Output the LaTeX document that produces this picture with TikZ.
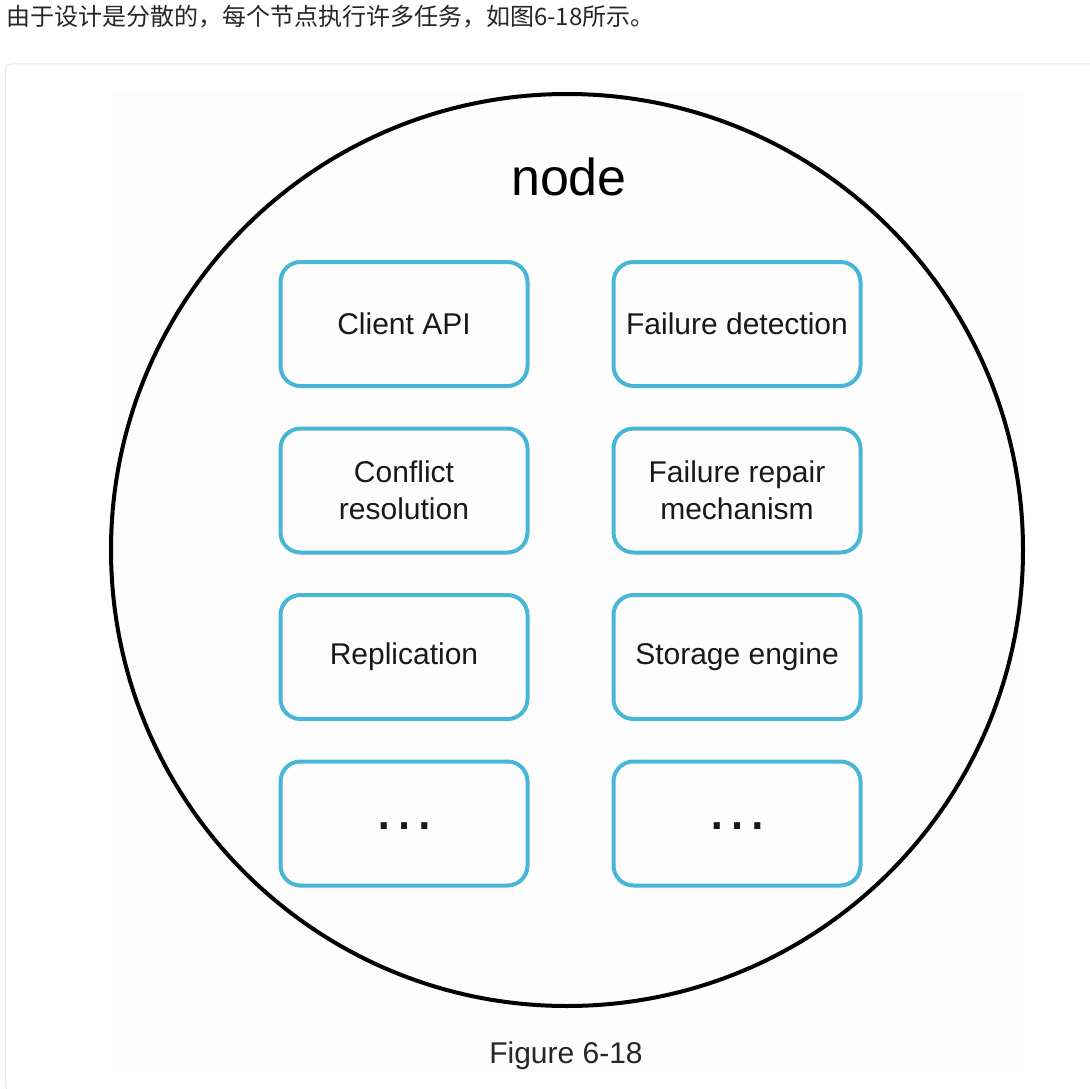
\documentclass[tikz,border=0pt]{standalone}
\usepackage{fontspec}
\setmainfont{Liberation Sans}
\newfontfamily\cjk{Noto Sans CJK SC}
\usepackage{tikz}
\usetikzlibrary{positioning}
\usepackage{xcolor}
\definecolor{taskblue}{RGB}{72,182,214}
\definecolor{panelgray}{RGB}{232,232,232}

\begin{document}
\begin{tikzpicture}[
  x=1pt, y=-1pt,
  task/.style={draw=taskblue, line width=4pt, rounded corners=20pt, minimum width=247pt,
    minimum height=124pt, align=center, text=black!90, font=\fontsize{30}{37}\selectfont},
  dots/.style={task, font=\fontsize{64}{64}\selectfont, text height=12pt, text depth=0pt},
  node distance=38.5pt and 82pt
]
\useasboundingbox (0,0) rectangle (1090,1089);
\node[anchor=base west, font=\cjk\fontsize{24}{28}\selectfont, text=black!85, inner sep=0pt] (intro) at (6,25.5)
  {由于设计是分散的，每个节点执行许多任务，如图6-18所示。};
\draw[panelgray, line width=1pt, rounded corners=5pt] (5.5,64) rectangle (1096,1091);
\fill[black!0.6] (108,90) rectangle (1025,1075);

\node[circle, draw, line width=4pt, minimum size=912pt, inner sep=0pt] (nd) at (567,550) {};
\node[anchor=base, font=\fontsize{52}{52}\selectfont] (ndlabel) at (569,195) {node};

\node[task] (capi) at (404,324) {Client API};
\node[task, right=of capi] (fdet) {Failure detection};
\node[task, below=of capi] (conf) {Conflict\\resolution};
\node[task, below=of fdet] (frep) {Failure repair\\mechanism};
\node[task, below=of conf] (repl) {Replication};
\node[task, below=of frep] (stor) {Storage engine};
\node[dots, below=of repl] (more1) {…};
\node[dots, below=of stor] (more2) {…};

\node[anchor=base, font=\fontsize{30}{30}\selectfont, text=black!85] (caption) at (566,1063) {Figure 6-18};
\end{tikzpicture}
\end{document}
